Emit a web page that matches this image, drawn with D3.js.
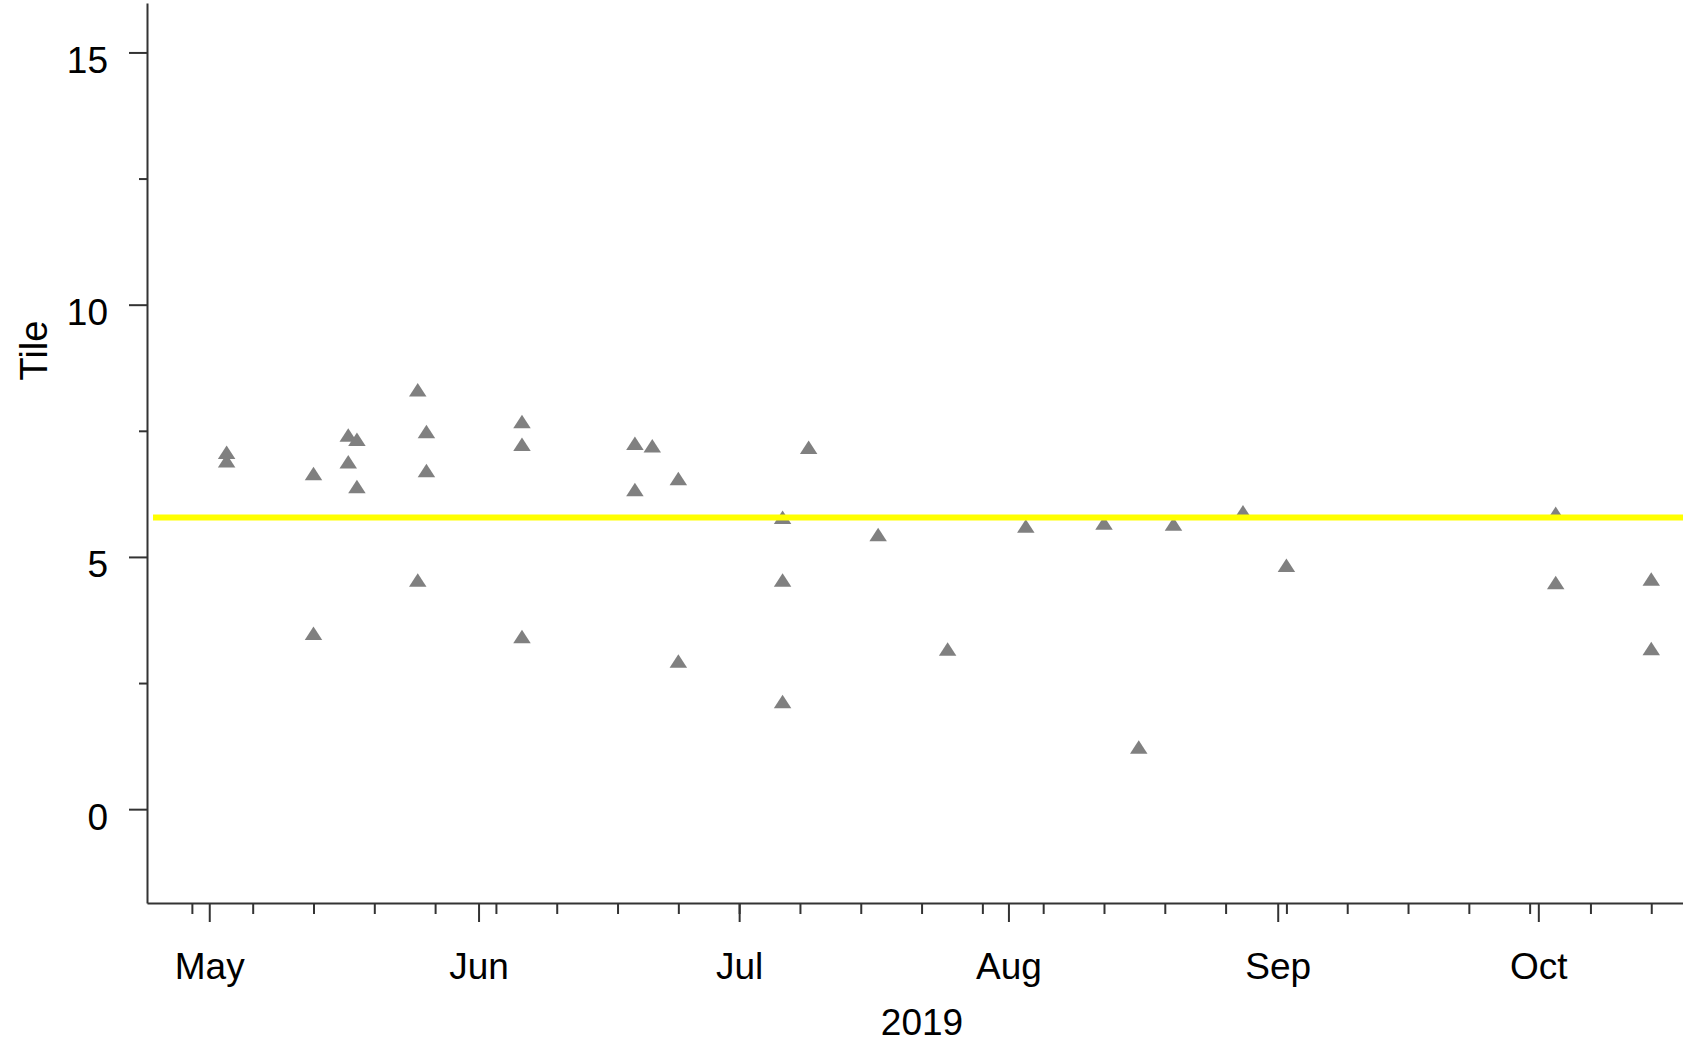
<!DOCTYPE html>
<html>
<head>
<meta charset="utf-8">
<script src="https://cdn.jsdelivr.net/npm/d3@7"></script>
<style>
  html, body { margin: 0; padding: 0; background: #fff; }
  svg { display: block; font-family: "Liberation Sans", Arial, sans-serif; }
</style>
</head>
<body>
<svg id="chart" width="1683" height="1043"></svg>
<script>
// Sample dates and tile readings
const sampleDates = [
  "2019-05-03", "2019-05-03",
  "2019-05-13", "2019-05-13",
  "2019-05-17", "2019-05-17",
  "2019-05-18", "2019-05-18",
  "2019-05-25", "2019-05-25",
  "2019-05-26", "2019-05-26",
  "2019-06-06", "2019-06-06", "2019-06-06",
  "2019-06-19", "2019-06-19",
  "2019-06-21",
  "2019-06-24", "2019-06-24",
  "2019-07-06", "2019-07-06", "2019-07-06",
  "2019-07-09",
  "2019-07-17",
  "2019-07-25",
  "2019-08-03",
  "2019-08-12",
  "2019-08-16",
  "2019-08-20",
  "2019-08-28",
  "2019-09-02",
  "2019-10-03", "2019-10-03",
  "2019-10-14", "2019-10-14"
];
const tileValues = [
  7.03, 6.86,
  6.61, 3.44,
  7.37, 6.84,
  7.29, 6.35,
  8.27, 4.50,
  7.44, 6.67,
  7.64, 7.19, 3.38,
  7.21, 6.29,
  7.16,
  6.51, 2.89,
  5.74, 4.50, 2.09,
  7.13,
  5.40,
  3.13,
  5.57,
  5.63,
  1.19,
  5.61,
  5.85,
  4.79,
  5.82, 4.45,
  4.52, 3.14
];
// Horizontal reference level
const referenceTile = 5.78;

// Axis ticks
const yMajorTicks = [0, 5, 10, 15];
const yMinorTicks = [2.5, 7.5, 12.5];
const yearLabel = "2019";
const yTitle = "Tile";

(function draw() {
  const parse = d3.utcParse("%Y-%m-%d");
  const points = sampleDates.map((d, i) => ({ date: parse(d), value: tileValues[i] }));

  const svg = d3.select("#chart");
  const W = 1683;
  const plotLeft = 147, plotBottom = 903, plotTop = 3;

  const x = d3.scaleUtc()
    .domain([new Date(Date.UTC(2019, 3, 23, 20)), new Date(Date.UTC(2019, 9, 18))])
    .range([plotLeft, 1686]);
  const y = d3.scaleLinear()
    .domain([-1.86, 15.98])
    .range([plotBottom, plotTop]);

  const axisColor = "#333";
  const fontSize = 37;

  // Points
  const tw = 17.5, th = 13.5;
  svg.append("g")
    .selectAll("path")
    .data(points)
    .join("path")
    .attr("d", d => {
      const cx = x(d.date), cy = y(d.value);
      return `M${cx},${cy - 2 * th / 3}L${cx + tw / 2},${cy + th / 3}L${cx - tw / 2},${cy + th / 3}Z`;
    })
    .attr("fill", "#808080");

  // Reference line (drawn over the points)
  svg.append("line")
    .attr("x1", plotLeft + 6)
    .attr("x2", W)
    .attr("y1", y(referenceTile))
    .attr("y2", y(referenceTile))
    .attr("stroke", "#ffff00")
    .attr("stroke-width", 6);

  // Y axis
  const yAxisG = svg.append("g").attr("transform", `translate(${plotLeft},0)`);
  yAxisG.call(d3.axisLeft(y).tickValues(yMajorTicks).tickSize(18).tickSizeOuter(0).tickPadding(21));
  yAxisG.append("g").call(d3.axisLeft(y).tickValues(yMinorTicks).tickSize(8).tickSizeOuter(0).tickFormat(""))
    .select(".domain").remove();

  // X axis: month ticks with labels, weekly (Monday) minor ticks
  const xAxisG = svg.append("g").attr("transform", `translate(0,${plotBottom})`);
  const months = d3.utcMonth.range(new Date(Date.UTC(2019, 4, 1)), new Date(Date.UTC(2019, 10, 1)));
  const mondays = d3.utcMonday.range(new Date(Date.UTC(2019, 3, 29)), new Date(Date.UTC(2019, 9, 18)));
  xAxisG.call(d3.axisBottom(x).tickValues(months).tickSize(19).tickSizeOuter(0).tickFormat(d3.utcFormat("%b")));
  xAxisG.append("g").call(d3.axisBottom(x).tickValues(mondays).tickSize(11).tickSizeOuter(0).tickFormat(""))
    .select(".domain").remove();

  // Axis styling
  svg.selectAll(".domain, .tick line").attr("stroke", axisColor).attr("stroke-width", 2);
  svg.selectAll(".tick text")
    .attr("fill", "#000")
    .style("font-size", fontSize + "px")
    .style("font-family", '"Liberation Sans", Arial, sans-serif');
  yAxisG.selectAll(".tick text").attr("dy", "20px");
  xAxisG.selectAll(".tick text").attr("y", 76).attr("dy", 0);

  // Axis titles
  svg.append("text")
    .attr("transform", "translate(47,350.5) rotate(-90)")
    .attr("text-anchor", "middle")
    .style("font-size", "38px")
    .attr("fill", "#000")
    .text(yTitle);

  svg.append("text")
    .attr("x", 922)
    .attr("y", 1035)
    .attr("text-anchor", "middle")
    .style("font-size", "37px")
    .attr("fill", "#000")
    .text(yearLabel);
})();
</script>
</body>
</html>
